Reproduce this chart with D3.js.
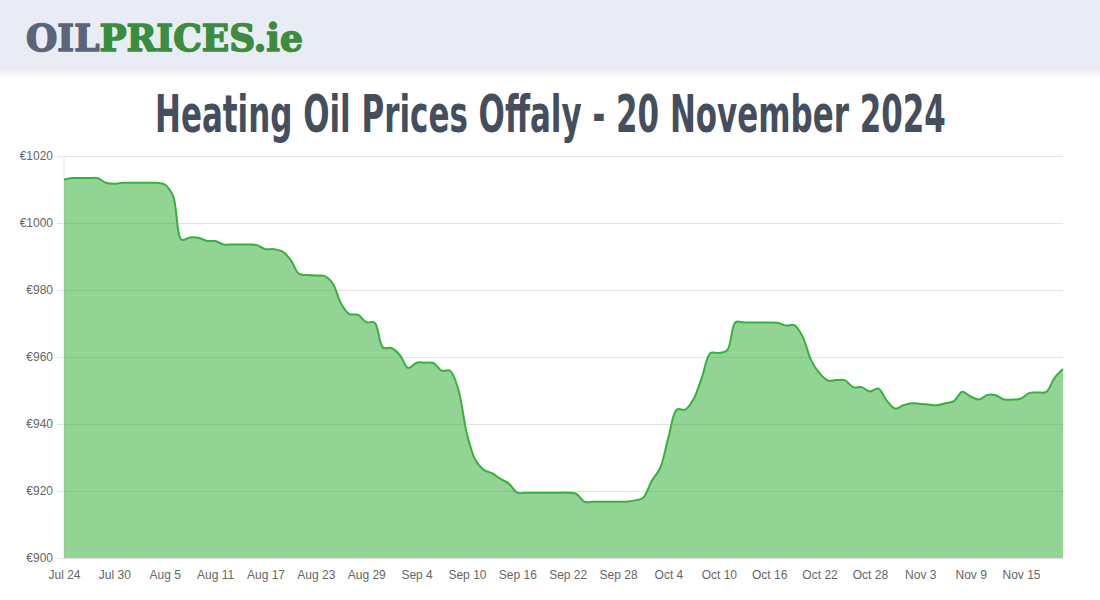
<!DOCTYPE html>
<html>
<head>
<meta charset="utf-8">
<script src="https://cdn.jsdelivr.net/npm/d3@7"></script>
<style>
  html, body { margin: 0; padding: 0; background: #fff; }
  svg { display: block; }
</style>
</head>
<body>
<svg id="chart" width="1100" height="600"></svg>
<script>
(function (d3) {

  /* =============================================== */
  /* =============== DATA ========================== */
  /* =============================================== */

  var title = 'Heating Oil Prices Offaly - 20 November 2024';
  var startDate = '2024-07-24'; // one price per day from here

  // daily average price (EUR), Jul 24 .. Nov 20
  var prices = [
    1013.0, 1013.4, 1013.4, 1013.4, 1013.4, 1012.0, 1011.7, 1012.0, 1012.0, 1012.0,
    1012.0, 1012.0, 1011.5, 1008.0, 995.0, 995.7, 995.6, 994.7, 994.6, 993.6,
    993.6, 993.6, 993.6, 993.4, 992.2, 992.2, 991.5, 989.0, 984.8, 984.5,
    984.3, 984.2, 982.0, 976.0, 972.8, 972.6, 970.4, 970.3, 962.8, 962.7,
    960.6, 956.7, 958.3, 958.3, 958.2, 955.9, 955.9, 950.0, 937.0, 929.3,
    926.3, 925.3, 923.6, 922.2, 919.5, 919.5, 919.5, 919.5, 919.5, 919.5,
    919.5, 919.2, 916.8, 916.8, 916.8, 916.8, 916.8, 916.8, 917.2, 918.0,
    923.0, 926.8, 936.0, 944.3, 944.3, 947.5, 954.0, 961.2, 961.2, 962.0,
    970.4, 970.3, 970.3, 970.3, 970.3, 970.2, 969.4, 969.5, 966.0, 959.0,
    955.2, 953.0, 953.1, 953.1, 951.0, 951.0, 949.7, 950.6, 947.0, 944.6,
    945.6, 946.2, 946.0, 945.8, 945.6, 946.2, 946.8, 949.6, 948.2, 947.3,
    948.7, 948.6, 947.3, 947.3, 947.6, 949.3, 949.4, 949.6, 953.8, 956.4
  ];

  var yTicks = [900, 920, 940, 960, 980, 1000, 1020];
  var xTickLabels = [
    'Jul 24', 'Jul 30', 'Aug 5', 'Aug 11', 'Aug 17', 'Aug 23', 'Aug 29',
    'Sep 4', 'Sep 10', 'Sep 16', 'Sep 22', 'Sep 28', 'Oct 4', 'Oct 10',
    'Oct 16', 'Oct 22', 'Oct 28', 'Nov 3', 'Nov 9', 'Nov 15'
  ];

  /* =============================================== */
  /* =============== SETUP ========================= */
  /* =============================================== */

  var svg = d3.select('#chart');
  var width = 1100;

  var plot = { left: 64, right: 1063, top: 156, bottom: 558 };

  var parseDay = d3.timeParse('%Y-%m-%d');
  var parseLabel = d3.timeParse('%b %d %Y');
  var day0 = parseDay(startDate);

  var rows = prices.map(function (p, i) {
    return { date: d3.timeDay.offset(day0, i), price: p };
  });

  var x = d3.scaleTime()
    .domain(d3.extent(rows, function (d) { return d.date; }))
    .range([plot.left, plot.right]);

  var y = d3.scaleLinear()
    .domain([900, 1020])
    .range([plot.bottom, plot.top]);

  var lineColor = 'rgb(56,176,60)';

  // squeeze a text horizontally so it spans `w` pixels starting at x0
  function fitWidth(sel, x0, w) {
    var natural = sel.node().getComputedTextLength();
    var k = w / natural;
    sel.attr('x', 0)
      .attr('transform', 'translate(' + x0 + ',0) scale(' + k + ',1)');
  }

  /* =============================================== */
  /* =============== HEADER ======================== */
  /* =============================================== */

  var defs = svg.append('defs');
  var shade = defs.append('linearGradient')
    .attr('id', 'headShade')
    .attr('x1', 0).attr('y1', 0).attr('x2', 0).attr('y2', 1);
  shade.append('stop').attr('offset', 0).attr('stop-color', '#000').attr('stop-opacity', 0.07);
  shade.append('stop').attr('offset', 1).attr('stop-color', '#000').attr('stop-opacity', 0);

  svg.append('rect')
    .attr('x', 0).attr('y', 0)
    .attr('width', width).attr('height', 70)
    .attr('fill', '#e9ecf4');

  svg.append('rect')
    .attr('x', 0).attr('y', 70)
    .attr('width', width).attr('height', 8)
    .attr('fill', 'url(#headShade)');

  var logo = svg.append('text')
    .attr('y', 51)
    .attr('font-family', '"DejaVu Serif", serif')
    .attr('font-weight', 'bold')
    .attr('font-size', 38)
    .attr('stroke-width', 1.6)
    .attr('stroke-linejoin', 'round');
  logo.append('tspan').attr('fill', '#5b6479').attr('stroke', '#5b6479').text('OIL');
  logo.append('tspan').attr('fill', '#3a8c3f').attr('stroke', '#3a8c3f').text('PRICES.ie');
  fitWidth(logo, 26, 277);

  var head = svg.append('text')
    .attr('y', 132)
    .attr('font-family', '"Liberation Sans Narrow", "DejaVu Sans Condensed", sans-serif')
    .attr('font-weight', 'bold')
    .attr('font-size', 51)
    .attr('fill', '#454e5e')
    .text(title);
  fitWidth(head, 155, 791);

  /* =============================================== */
  /* =============== AXES + GRID =================== */
  /* =============================================== */

  var yAxis = d3.axisLeft(y)
    .tickValues(yTicks)
    .tickSize(0)
    .tickPadding(11)
    .tickFormat(function (d) { return '€' + d; });

  var gy = svg.append('g')
    .attr('transform', 'translate(' + plot.left + ',0)')
    .call(yAxis);
  gy.select('.domain').remove();
  gy.selectAll('.tick line')
    .attr('stroke', '#e3e3e3')
    .attr('x1', -7)
    .attr('x2', plot.right - plot.left);
  gy.selectAll('.tick text')
    .attr('font-family', '"Liberation Sans", Arial, sans-serif')
    .attr('font-size', 12)
    .attr('fill', '#666');

  svg.append('line')
    .attr('x1', plot.left).attr('x2', plot.left)
    .attr('y1', plot.top).attr('y2', plot.bottom)
    .attr('stroke', '#e3e3e3');

  var xAxis = d3.axisBottom(x)
    .tickValues(xTickLabels.map(function (s) { return parseLabel(s + ' 2024'); }))
    .tickSize(0)
    .tickPadding(12)
    .tickFormat(d3.timeFormat('%b %-d'));

  var gx = svg.append('g')
    .attr('transform', 'translate(0,' + plot.bottom + ')')
    .call(xAxis);
  gx.select('.domain').remove();
  gx.selectAll('.tick text')
    .attr('font-family', '"Liberation Sans", Arial, sans-serif')
    .attr('font-size', 12)
    .attr('fill', '#666');

  /* =============================================== */
  /* =============== SERIES ======================== */
  /* =============================================== */

  var curve = d3.curveCatmullRom.alpha(0.5);

  var area = d3.area()
    .x(function (d) { return x(d.date); })
    .y0(plot.bottom)
    .y1(function (d) { return y(d.price); })
    .curve(curve);

  var line = d3.line()
    .x(function (d) { return x(d.date); })
    .y(function (d) { return y(d.price); })
    .curve(curve);

  svg.append('path')
    .datum(rows)
    .attr('d', area)
    .attr('fill', lineColor)
    .attr('fill-opacity', 0.55);

  svg.append('path')
    .datum(rows)
    .attr('d', line)
    .attr('fill', 'none')
    .attr('stroke', lineColor)
    .attr('stroke-width', 2);

}(window.d3));
</script>
</body>
</html>
